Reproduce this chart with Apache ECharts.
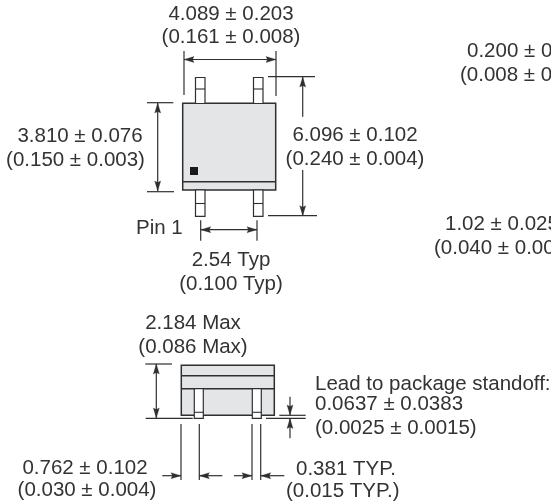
<!DOCTYPE html>
<html>
<head>
<meta charset="utf-8">
<style>html,body{margin:0;padding:0;background:#fff}#c{width:551px;height:501px}</style>
<script src="https://cdn.jsdelivr.net/npm/echarts@6/dist/echarts.min.js"></script>
</head>
<body>
<div id="c"></div>
<script>
// x, y, w, h
const bodyRects = [
  [182.7,103.3,93,86.7],
  [181.3,365.3,93,50]
];
const whiteLeads = [
  [195.5,77.5,9.5,26],[253.5,77.5,9.5,26],
  [195.5,190,9.5,26.3],[253.5,190,9.5,26.3],
  [194.3,388.7,9,29.6],[252.3,388.7,9,29.6]
];
const pinMark = [[190,167,8,8]];
// x1, y1, x2, y2
const outlineLines = [
  [182.7,181.7,275.7,181.7],
  [195.5,89,205,89],[253.5,89,263,89],
  [195.5,203.5,205,203.5],[253.5,203.5,263,203.5],
  [181.3,375.7,274.3,375.7],[181.3,388.7,274.3,388.7],
  [194.3,412.3,203.3,412.3],[252.3,412.3,261.3,412.3]
];
const dimensionLines = [
  [184,51,184,95],[276,51,276,96],[184,59.5,276,59.5],
  [147,102.7,173.3,102.7],[147,191.7,174,191.7],[157.7,103,157.7,191],
  [268,76.7,315,76.7],[268,215.7,317,215.7],[302.7,77,302.7,116.7],[302.7,170,302.7,215.7],
  [200.7,220.3,200.7,240.7],[257,220.3,257,240.7],[200.7,229.7,257,229.7],
  [145.3,364,172,364],[145.7,418.3,192.7,418.3],[156.3,364,156.3,418],
  [279.3,415.3,305.7,415.3],[266,418.3,305.7,418.3],[290,396.7,290,415],[290,418.5,290,438.3],
  [181,424,181,480],[199.3,424,199.3,480],[252,424,252,480],[260.7,424,260.7,480],
  [162.3,475.7,181,475.7],[199.3,475.7,222.3,475.7],[234,475.7,252,475.7],[260.7,475.7,284.3,475.7]
];
// tip x, tip y, direction x, direction y
const arrowHeads = [
  [184,59.5,1,0],[276,59.5,-1,0],
  [157.7,103,0,1],[157.7,191,0,-1],
  [302.7,77,0,1],[302.7,215.7,0,-1],
  [200.7,229.7,1,0],[257,229.7,-1,0],
  [156.3,364,0,1],[156.3,418,0,-1],
  [290,415,0,-1],[290,418.5,0,1],
  [181,475.7,-1,0],[199.3,475.7,1,0],[252,475.7,-1,0],[260.7,475.7,1,0]
];
// x, y, text, align
const labels = [
  [231,14,"4.089 ± 0.203","center"],
  [231,37.5,"(0.161 ± 0.008)","center"],
  [80,136,"3.810 ± 0.076","center"],
  [75.5,160,"(0.150 ± 0.003)","center"],
  [355,135,"6.096 ± 0.102","center"],
  [355,159,"(0.240 ± 0.004)","center"],
  [136,228,"Pin 1","left"],
  [231,260,"2.54 Typ","center"],
  [231,284,"(0.100 Typ)","center"],
  [467,51,"0.200 ± 0.051","left"],
  [460,75,"(0.008 ± 0.002)","left"],
  [445,224,"1.02 ± 0.025","left"],
  [434,248,"(0.040 ± 0.001)","left"],
  [193,323,"2.184 Max","center"],
  [193,347,"(0.086 Max)","center"],
  [315,384,"Lead to package standoff:","left"],
  [315,404,"0.0637 ± 0.0383","left"],
  [315,428,"(0.0025 ± 0.0015)","left"],
  [85,468,"0.762 ± 0.102","center"],
  [87,490,"(0.030 ± 0.004)","center"],
  [296,469,"0.381 TYP.","left"],
  [286,491,"(0.015 TYP.)","left"]
];

const INK = '#2f2f31';
const TEXT = '#333335';
const FILL = '#e4e5e6';

function rectSeries(data, fill, stroke, lw){
  return {type:'custom',coordinateSystem:'cartesian2d',clip:false,silent:true,data:data,
    encode:{x:0,y:1},
    renderItem:function(p,api){
      const a=api.coord([api.value(0),api.value(1)]);
      const b=api.coord([api.value(0)+api.value(2),api.value(1)+api.value(3)]);
      return {type:'rect',shape:{x:a[0],y:a[1],width:b[0]-a[0],height:b[1]-a[1]},
        style:{fill:fill,stroke:stroke,lineWidth:lw}};
    }};
}
function lineSeries(data, lw){
  return {type:'custom',coordinateSystem:'cartesian2d',clip:false,silent:true,data:data,
    encode:{x:[0,2],y:[1,3]},
    renderItem:function(p,api){
      const a=api.coord([api.value(0),api.value(1)]);
      const b=api.coord([api.value(2),api.value(3)]);
      return {type:'line',shape:{x1:a[0],y1:a[1],x2:b[0],y2:b[1]},
        style:{stroke:INK,lineWidth:lw,fill:null}};
    }};
}
const arrowSeries = {type:'custom',coordinateSystem:'cartesian2d',clip:false,silent:true,data:arrowHeads,
  encode:{x:0,y:1},
  renderItem:function(p,api){
    const t=api.coord([api.value(0),api.value(1)]);
    const dx=api.value(2),dy=api.value(3);
    const L=10,W=3,N=8.5;
    return {type:'polygon',shape:{points:[
      [t[0],t[1]],
      [t[0]+dx*L-dy*W,t[1]+dy*L+dx*W],
      [t[0]+dx*N,t[1]+dy*N],
      [t[0]+dx*L+dy*W,t[1]+dy*L-dx*W]
    ]},style:{fill:INK,stroke:INK,lineWidth:0.3}};
  }};
const labelSeries = {type:'custom',coordinateSystem:'cartesian2d',clip:false,silent:true,data:labels,
  encode:{x:0,y:1},
  dimensions:['x','y',{name:'t',type:'ordinal'},{name:'a',type:'ordinal'}],
  renderItem:function(p,api){
    const d=labels[p.dataIndex];
    const c=api.coord([d[0],d[1]]);
    return {type:'text',x:c[0],y:c[1],style:{text:d[2],align:d[3],verticalAlign:'middle',
      fill:TEXT,font:'20.5px "Liberation Sans", Arial, sans-serif'}};
  }};

const chart = echarts.init(document.getElementById('c'),null,{renderer:'canvas'});
chart.setOption({
  animation:false,
  backgroundColor:'#ffffff',
  grid:{left:0,right:0,top:0,bottom:0},
  xAxis:{type:'value',min:0,max:551,show:false},
  yAxis:{type:'value',min:0,max:501,inverse:true,show:false},
  series:[
    rectSeries(bodyRects,FILL,INK,1.5),
    lineSeries(outlineLines.slice(0,1),1.5),
    lineSeries(outlineLines.slice(5,7),1.5),
    rectSeries(whiteLeads,'#ffffff',INK,1.2),
    lineSeries(outlineLines.slice(1,5).concat(outlineLines.slice(7)),1.1),
    rectSeries(pinMark,'#1a1a1c',null,0),
    lineSeries(dimensionLines,1.2),
    arrowSeries,
    labelSeries
  ]
});
</script>
</body>
</html>
